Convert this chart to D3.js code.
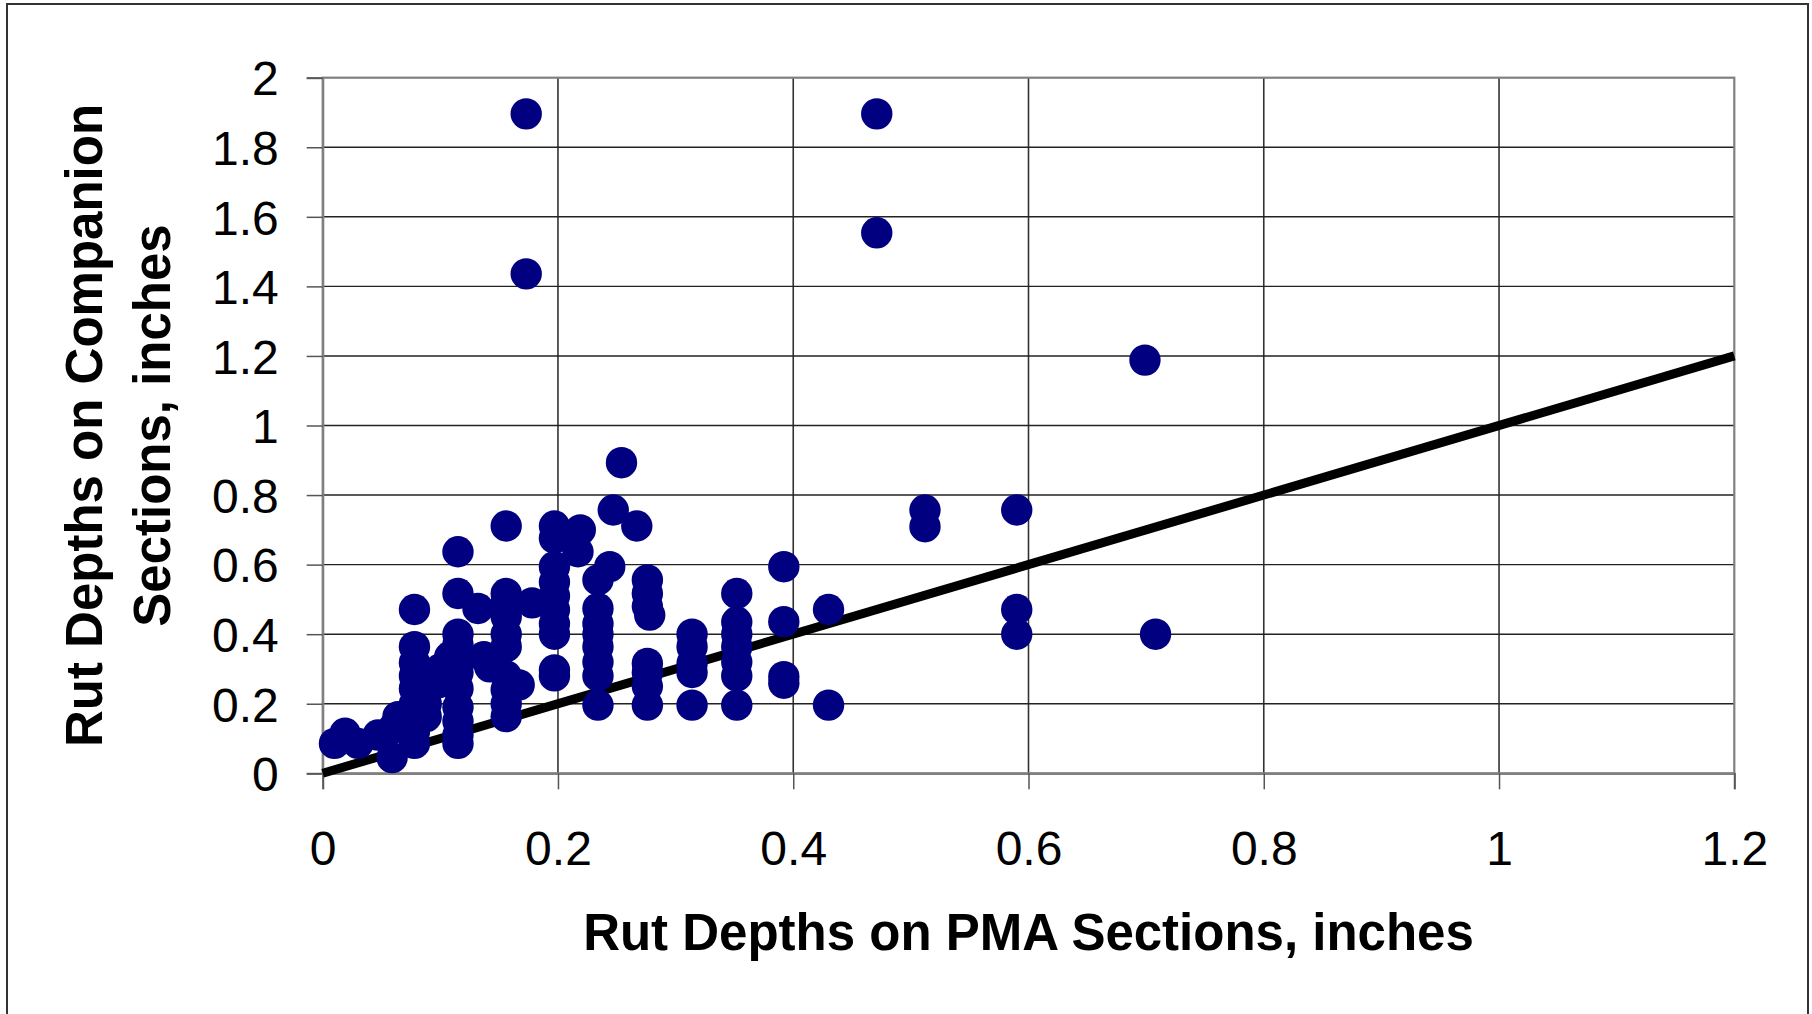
<!DOCTYPE html>
<html>
<head>
<meta charset="utf-8">
<script src="https://cdn.jsdelivr.net/npm/d3@7"></script>
<style>
  html, body { margin: 0; padding: 0; background: #fff; }
  svg { display: block; font-family: "Liberation Sans", Arial, sans-serif; }
</style>
</head>
<body>
<svg id="chart" width="1812" height="1014"></svg>
<script>
// Rut depth pairs, inches: PMA section (x) vs companion section (y)
const pmaDepth = [
  0.010, 0.019, 0.030, 0.047, 0.059, 0.064, 0.060,
  0.078, 0.078, 0.078, 0.078, 0.078, 0.078, 0.078, 0.078, 0.078,
  0.088, 0.088, 0.098, 0.100, 0.108,
  0.115, 0.115, 0.115, 0.115, 0.115, 0.115, 0.115, 0.115, 0.115, 0.115, 0.115,
  0.132, 0.137, 0.142,
  0.156, 0.156, 0.156, 0.156, 0.156, 0.156, 0.156, 0.156, 0.156, 0.156,
  0.167, 0.173, 0.173, 0.178,
  0.197, 0.197, 0.197, 0.197, 0.197, 0.197, 0.197, 0.197, 0.197, 0.197,
  0.217, 0.219,
  0.234, 0.234, 0.234, 0.234, 0.234, 0.234, 0.234, 0.234,
  0.244, 0.247, 0.254, 0.267,
  0.276, 0.276, 0.276, 0.278, 0.276, 0.276, 0.276, 0.276,
  0.314, 0.314, 0.314, 0.314, 0.314,
  0.352, 0.352, 0.352, 0.352, 0.352, 0.352, 0.352,
  0.392, 0.392, 0.392, 0.392,
  0.430, 0.430,
  0.471, 0.471,
  0.512, 0.512,
  0.590, 0.590, 0.590,
  0.699, 0.708
];
const companionDepth = [
  0.086, 0.115, 0.086, 0.110, 0.045, 0.163, 0.130,
  0.471, 0.364, 0.318, 0.280, 0.244, 0.200, 0.163, 0.120, 0.086,
  0.163, 0.200, 0.260, 0.300, 0.335,
  0.637, 0.517, 0.400, 0.370, 0.330, 0.290, 0.244, 0.190, 0.150, 0.110, 0.086,
  0.474, 0.335, 0.306,
  0.711, 0.517, 0.490, 0.450, 0.400, 0.364, 0.280, 0.240, 0.200, 0.163,
  0.254, 1.896, 1.436, 0.490,
  0.711, 0.676, 0.594, 0.550, 0.510, 0.470, 0.430, 0.400, 0.297, 0.280,
  0.637, 0.700,
  0.556, 0.474, 0.430, 0.400, 0.364, 0.320, 0.280, 0.196,
  0.594, 0.757, 0.893, 0.711,
  0.556, 0.517, 0.480, 0.455, 0.316, 0.290, 0.250, 0.196,
  0.400, 0.364, 0.316, 0.290, 0.196,
  0.517, 0.435, 0.400, 0.364, 0.320, 0.280, 0.196,
  0.594, 0.436, 0.278, 0.259,
  0.471, 0.196,
  1.896, 1.554,
  0.757, 0.709,
  0.757, 0.471, 0.400,
  1.188, 0.400
];
// Line of equality
const equalityLine = [0, 1.2];

const xTicks = [0, 0.2, 0.4, 0.6, 0.8, 1, 1.2];
const yTicks = [0, 0.2, 0.4, 0.6, 0.8, 1, 1.2, 1.4, 1.6, 1.8, 2];

const xTitle = "Rut Depths on PMA Sections, inches";
const yTitleLines = ["Rut Depths on Companion", "Sections, inches"];

const svg = d3.select("#chart");
const plot = { left: 322.7, right: 1734.3, top: 77.7, bottom: 773.3 };

const x = d3.scaleLinear().domain([0, 1.2]).range([plot.left, plot.right]);
const y = d3.scaleLinear().domain([0, 2]).range([plot.bottom, plot.top]);

// outer frame
svg.append("rect")
  .attr("x", 7).attr("y", 4).attr("width", 1801).attr("height", 1020)
  .attr("fill", "#fff").attr("stroke", "#333").attr("stroke-width", 2);

// gridlines
const grid = svg.append("g");
grid.selectAll("line.gx").data(xTicks.filter(d => d > 0 && d < 1.2)).join("line")
  .attr("x1", d => x(d)).attr("x2", d => x(d))
  .attr("y1", plot.top).attr("y2", plot.bottom)
  .attr("stroke", "#333").attr("stroke-width", 1.6);
grid.selectAll("line.gy").data(yTicks.filter(d => d > 0 && d < 2)).join("line")
  .attr("x1", plot.left).attr("x2", plot.right)
  .attr("y1", d => y(d)).attr("y2", d => y(d))
  .attr("stroke", "#222").attr("stroke-width", 1.4);

// plot area border
svg.append("rect")
  .attr("x", plot.left).attr("y", plot.top)
  .attr("width", plot.right - plot.left).attr("height", plot.bottom - plot.top)
  .attr("fill", "none").attr("stroke", "#808080").attr("stroke-width", 2.2);

// axes
const xAxis = d3.axisBottom(x).tickValues(xTicks).tickSize(16).tickPadding(42)
  .tickFormat(d3.format("~g"));
const yAxis = d3.axisLeft(y).tickValues(yTicks).tickSize(16).tickPadding(28)
  .tickFormat(d3.format("~g"));

const gx = svg.append("g").attr("transform", `translate(0,${plot.bottom})`).call(xAxis);
const gy = svg.append("g").attr("transform", `translate(${plot.left},0)`).call(yAxis);
[gx, gy].forEach(g => {
  g.select(".domain").attr("stroke", "#808080").attr("stroke-width", 2.2);
  g.selectAll(".tick line").attr("stroke", "#555").attr("stroke-width", 1.5);
  g.selectAll(".tick text").attr("fill", "#000")
    .style("font-family", "'Liberation Sans', Arial, sans-serif")
    .style("font-size", "48px");
});
gy.selectAll(".tick text").attr("dy", "0.36em");

// equality line
svg.append("line")
  .attr("x1", x(equalityLine[0])).attr("y1", y(equalityLine[0]))
  .attr("x2", x(equalityLine[1])).attr("y2", y(equalityLine[1]))
  .attr("stroke", "#000").attr("stroke-width", 9);

// data points
const pts = pmaDepth.map((v, i) => [v, companionDepth[i]]);
svg.append("g").selectAll("circle").data(pts).join("circle")
  .attr("cx", d => x(d[0])).attr("cy", d => y(d[1]))
  .attr("r", 15.7).attr("fill", "#000080");

// axis titles
svg.append("text")
  .attr("x", (plot.left + plot.right) / 2).attr("y", 950)
  .attr("text-anchor", "middle")
  .style("font-size", "51px").style("font-weight", "bold")
  .text(xTitle);

const yt = svg.append("text")
  .attr("transform", `translate(84,${(plot.top + plot.bottom) / 2}) rotate(-90)`)
  .attr("text-anchor", "middle")
  .style("font-size", "51px").style("font-weight", "bold");
yTitleLines.forEach((t, i) => {
  yt.append("tspan").attr("x", 0).attr("y", i * 68).attr("dy", "0.36em").text(t);
});
</script>
</body>
</html>
